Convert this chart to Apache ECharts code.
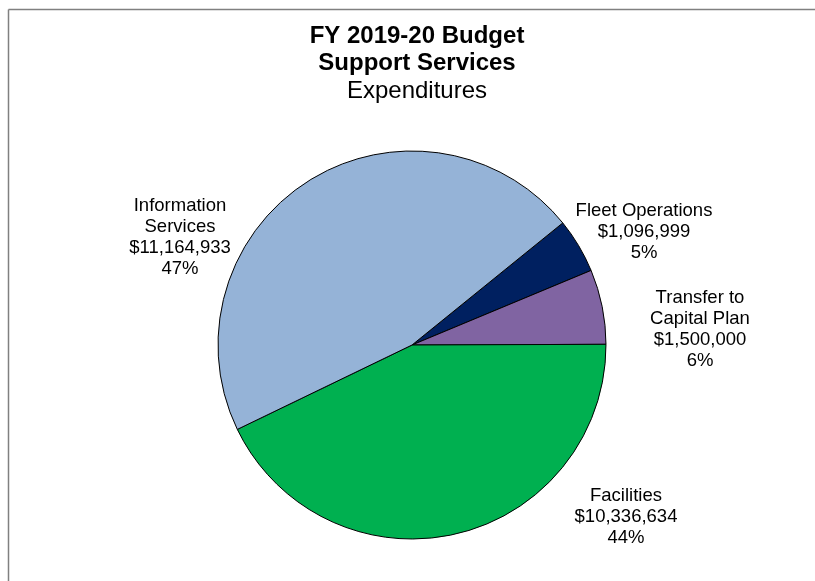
<!DOCTYPE html>
<html>
<head>
<meta charset="utf-8">
<script src="https://cdn.jsdelivr.net/npm/echarts@6/dist/echarts.min.js"></script>
<style>
html,body{margin:0;padding:0;background:#fff;}
#main{width:815px;height:581px;}
</style>
</head>
<body>
<div id="main"></div>
<script>
// Data
const categories = ['Fleet Operations', 'Transfer to\nCapital Plan', 'Facilities', 'Information\nServices'];
const amounts = [1096999, 1500000, 10336634, 11164933];
const percentLabels = ['5%', '6%', '44%', '47%'];
const titleLines = ['FY 2019-20 Budget', 'Support Services', 'Expenditures'];
const colors = ['#002060', '#8064A2', '#00B050', '#95B3D7'];

// Label anchor positions (layout only)
const labelPos = [
  {x: 644, y: 232},
  {x: 700, y: 329},
  {x: 626, y: 517},
  {x: 180, y: 237}
];

function fmt(v) {
  return '$' + v.toString().replace(/\B(?=(\d{3})+(?!\d))/g, ',');
}

const chart = echarts.init(document.getElementById('main'), null, {renderer: 'canvas'});
const FONT = '"Liberation Sans", Arial, sans-serif';

chart.setOption({
  backgroundColor: '#ffffff',
  animation: false,
  title: [
    {text: titleLines[0], left: 412, top: 19, textAlign: 'center',
     textStyle: {fontFamily: FONT, fontSize: 24, fontWeight: 'bold', color: '#000'}},
    {text: titleLines[1], left: 412, top: 46, textAlign: 'center',
     textStyle: {fontFamily: FONT, fontSize: 24, fontWeight: 'bold', color: '#000'}},
    {text: titleLines[2], left: 412, top: 74, textAlign: 'center',
     textStyle: {fontFamily: FONT, fontSize: 24, fontWeight: 'normal', color: '#000'}}
  ],
  graphic: [
    {type: 'line', shape: {x1: 8.5, y1: 9.5, x2: 815, y2: 9.5}, style: {stroke: '#808080', lineWidth: 1.5}},
    {type: 'line', shape: {x1: 8.5, y1: 9.5, x2: 8.5, y2: 581}, style: {stroke: '#808080', lineWidth: 1.5}}
  ],
  series: [{
    type: 'pie',
    center: [412, 345],
    radius: 194,
    startAngle: 39,
    clockwise: true,
    avoidLabelOverlap: false,
    itemStyle: {borderColor: '#000', borderWidth: 1},
    emphasis: {disabled: true},
    label: {
      show: true,
      position: 'outside',
      fontFamily: FONT,
      fontSize: 18.5,
      lineHeight: 21,
      color: '#000',
      align: 'center',
      formatter: function (p) {
        return categories[p.dataIndex] + '\n' + fmt(amounts[p.dataIndex]) + '\n' + percentLabels[p.dataIndex];
      }
    },
    labelLine: {show: false},
    labelLayout: function (params) {
      const pos = labelPos[params.dataIndex];
      return {x: pos.x, y: pos.y, align: 'center', verticalAlign: 'middle', hideOverlap: false};
    },
    data: categories.map(function (c, i) {
      return {name: c, value: amounts[i], itemStyle: {color: colors[i]}};
    })
  }]
});
</script>
</body>
</html>
